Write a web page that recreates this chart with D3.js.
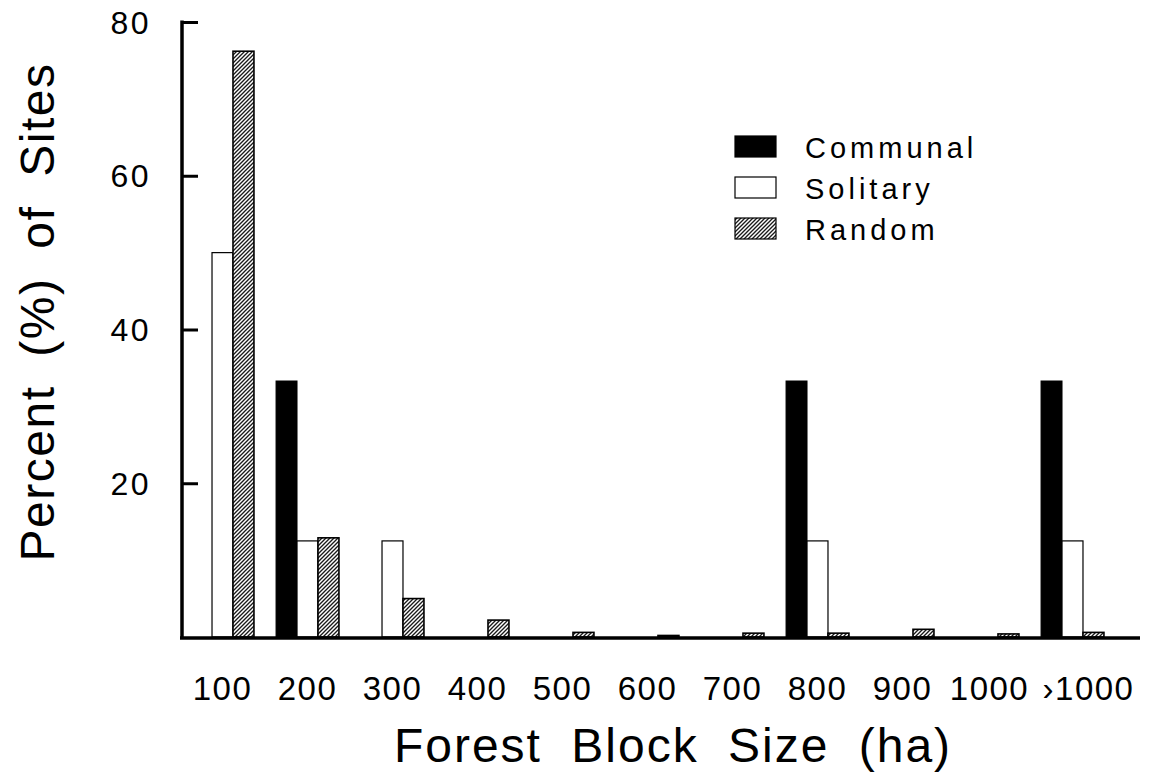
<!DOCTYPE html>
<html>
<head>
<meta charset="utf-8">
<script src="https://cdn.jsdelivr.net/npm/d3@7"></script>
<style>
  html, body { margin: 0; padding: 0; background: #fff; }
  svg { display: block; }
  text { font-family: "Liberation Sans", Arial, Helvetica, sans-serif; fill: #000; }
</style>
</head>
<body>
<svg id="chart" width="1149" height="773"></svg>
<script>
// ---- data ----
const categories = ["100", "200", "300", "400", "500", "600", "700", "800", "900", "1000", "\u203A1000"];
const communal = [0, 33.3, 0, 0, 0, 0, 0, 33.3, 0, 0, 33.3];
const solitary = [50, 12.5, 12.5, 0, 0, 0, 0, 12.5, 0, 0, 12.5];
const random   = [76.2, 12.9, 5.0, 2.2, 0.6, 0.2, 0.5, 0.5, 1.0, 0.4, 0.6];
const seriesNames = ["Communal", "Solitary", "Random"];
const yTicks = [20, 40, 60, 80];

const svg = d3.select("#chart");
const defs = svg.append("defs");
const pat = defs.append("pattern")
  .attr("id", "hatch").attr("patternUnits", "userSpaceOnUse")
  .attr("width", 4).attr("height", 4);
pat.append("rect").attr("width", 4).attr("height", 4).attr("fill", "#fff");
pat.append("path").attr("d", "M-1,1 l2,-2 M0,4 l4,-4 M3,5 l2,-2")
  .attr("stroke", "#1a1a1a").attr("stroke-width", 1.35);

const x0 = d3.scaleBand().domain(categories).range([180, 1115])
  .paddingInner(0.26).paddingOuter(0.13);
const x1 = d3.scaleBand().domain(seriesNames).range([0, x0.bandwidth()]);
const y = d3.scaleLinear().domain([0, 80]).range([637, 22]);

const fills = { Communal: "#000", Solitary: "#fff", Random: "url(#hatch)" };
const strokeW = { Communal: 1, Solitary: 1.2, Random: 1.6 };
const seriesData = { Communal: communal, Solitary: solitary, Random: random };

// bars
const groups = svg.append("g");
seriesNames.forEach(name => {
  groups.selectAll(null)
    .data(seriesData[name].map((v, i) => ({ cat: categories[i], v })))
    .join("rect")
    .filter(d => d.v > 0)
    .attr("x", d => x0(d.cat) + x1(name))
    .attr("y", d => y(d.v))
    .attr("width", x1.bandwidth())
    .attr("height", d => y(0) - y(d.v))
    .attr("fill", fills[name])
    .attr("stroke", "#000")
    .attr("stroke-width", strokeW[name]);
});

// y axis
const yAxis = d3.axisRight(y).tickValues(yTicks).tickSize(16).tickFormat("");
const yg = svg.append("g").attr("transform", "translate(182,0)").call(yAxis);
yg.select(".domain").remove();
yg.selectAll(".tick line").attr("stroke", "#000").attr("stroke-width", 3);
svg.append("line").attr("x1", 182).attr("x2", 182).attr("y1", y(80) - 1.5).attr("y2", y(0) + 1.5)
  .attr("stroke", "#000").attr("stroke-width", 3.5);
svg.append("g").selectAll("text").data(yTicks).join("text")
  .attr("x", 151).attr("y", d => y(d)).attr("dy", "0.36em")
  .attr("text-anchor", "end").attr("font-size", 32).attr("letter-spacing", 2.5)
  .text(d => d);

// x axis
svg.append("line").attr("x1", 180).attr("x2", 1140).attr("y1", y(0) + 1).attr("y2", y(0) + 1)
  .attr("stroke", "#000").attr("stroke-width", 3.5);
const xAxis = d3.axisBottom(x0).tickSize(0).tickPadding(0);
const xg = svg.append("g").attr("transform", "translate(0,677)").call(xAxis);
xg.select(".domain").remove();
xg.selectAll("text").attr("font-size", 33).attr("letter-spacing", 1.5)
  .attr("font-family", "Liberation Sans, Arial, sans-serif").attr("fill", "#000")
  .attr("dy", "0.71em").attr("y", 0)
  .attr("dx", (d, i) => i === categories.length - 1 ? 16 : (i === categories.length - 2 ? 2 : 0));

// axis titles
svg.append("text").attr("x", 673).attr("y", 762).attr("text-anchor", "middle")
  .attr("font-size", 48).attr("letter-spacing", 2).attr("word-spacing", 14)
  .text("Forest Block Size (ha)");
svg.append("text").attr("transform", "translate(54,312) rotate(-90)").attr("text-anchor", "middle")
  .attr("font-size", 48).attr("letter-spacing", 1.5).attr("word-spacing", 14)
  .text("Percent (%) of Sites");

// legend
const lg = svg.append("g").attr("transform", "translate(735,136)");
seriesNames.forEach((name, i) => {
  lg.append("rect").attr("x", 0).attr("y", i * 41).attr("width", 41).attr("height", 21)
    .attr("fill", fills[name]).attr("stroke", "#000").attr("stroke-width", 1.2);
  lg.append("text").attr("x", 70).attr("y", i * 41 + 12).attr("dy", "0.36em")
    .attr("font-size", 29).attr("letter-spacing", 4).text(name);
});
</script>
</body>
</html>
